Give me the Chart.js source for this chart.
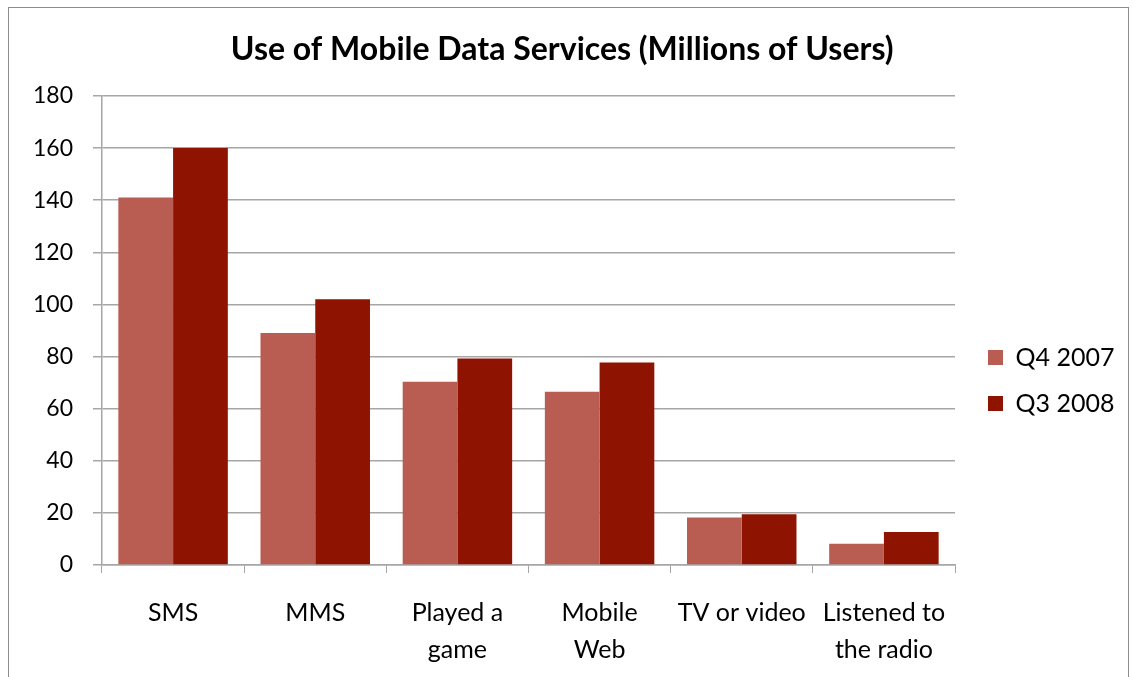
<!DOCTYPE html>
<html>
<head>
<meta charset="utf-8">
<title>Use of Mobile Data Services</title>
<script src="https://cdn.jsdelivr.net/npm/chart.js@4"></script>
<style>
  html, body { margin: 0; padding: 0; background: #fff; overflow: hidden; }
  #wrap { position: relative; width: 1134px; height: 677px; }
  #chart { position: absolute; left: 0; top: 0; }
  #frame {
    position: absolute; left: 8px; top: 7px; width: 1121px; height: 720px;
    border: 1.5px solid #8c8c8c; pointer-events: none; box-sizing: border-box;
  }
</style>
</head>
<body>
<div id="wrap">
  <canvas id="chart" width="1134" height="677"></canvas>
  <div id="frame"></div>
</div>
<script>
// Categories (multi-line labels as arrays)
const categories = [
  ['SMS'],
  ['MMS'],
  ['Played a', 'game'],
  ['Mobile', 'Web'],
  ['TV or video'],
  ['Listened to', 'the radio']
];

// Millions of users per survey period
const q4_2007 = [141, 89, 70.3, 66.5, 18.2, 8.2];
const q3_2008 = [160, 102, 79.3, 77.7, 19.5, 12.7];

const seriesNames = ['Q4 2007', 'Q3 2008'];

// Value axis ticks
const yTicks = [0, 20, 40, 60, 80, 100, 120, 140, 160, 180];

const FONT = 'Lato, "Open Sans", sans-serif';
const GRID = '#a6a6a6';

// Legend sizing: measure labels so the plot keeps a fixed right edge
const legendFontSize = 25;
const legendPad = 21;
const legendBox = 15;
const mctx = document.createElement('canvas').getContext('2d');
mctx.font = legendFontSize + 'px ' + FONT;
const maxLegendText = Math.max(...seriesNames.map(s => mctx.measureText(s).width));
const legendWidth = legendPad + legendBox + legendFontSize / 2 + maxLegendText + 10;
const plotRight = 955;
const legendGap = 12;
const rightPad = Math.max(0, 1134 - plotRight - legendGap - legendWidth);

new Chart(document.getElementById('chart'), {
  type: 'bar',
  data: {
    labels: categories,
    datasets: [
      {
        label: seriesNames[0],
        data: q4_2007,
        backgroundColor: '#b95c52',
        categoryPercentage: 0.77,
        barPercentage: 1.0
      },
      {
        label: seriesNames[1],
        data: q3_2008,
        backgroundColor: '#8e1300',
        categoryPercentage: 0.77,
        barPercentage: 1.0
      }
    ]
  },
  options: {
    responsive: false,
    devicePixelRatio: 1,
    animation: false,
    layout: { padding: { top: 0, left: 0, right: rightPad, bottom: 10 } },
    plugins: {
      title: {
        display: true,
        text: 'Use of Mobile Data Services (Millions of Users)',
        color: '#000',
        font: { family: FONT, size: 32, weight: 'bold', lineHeight: 1.2 },
        padding: { top: 30, bottom: 27.6 }
      },
      legend: {
        position: 'right',
        // empty heading block: pushes the legend entries down to mid-height of the plot
        title: { display: true, text: '', font: { family: FONT, size: 20, lineHeight: 1 }, padding: { top: 74, bottom: 0 } },
        labels: {
          color: '#000',
          font: { family: FONT, size: legendFontSize },
          boxWidth: legendBox,
          boxHeight: legendBox,
          padding: legendPad
        }
      },
      tooltip: { enabled: false }
    },
    scales: {
      x: {
        grid: {
          display: true,
          drawOnChartArea: false,
          drawTicks: true,
          tickLength: 8,
          color: GRID,
          lineWidth: 1
        },
        border: { display: true, color: GRID, width: 1.5 },
        ticks: {
          color: '#000',
          font: { family: FONT, size: 25, lineHeight: 1.48 },
          padding: 21,
          maxRotation: 0,
          autoSkip: false
        },
        afterFit(scale) { scale.height = 102; }
      },
      y: {
        min: 0,
        max: 180,
        afterBuildTicks(scale) { scale.ticks = yTicks.map(v => ({ value: v })); },
        grid: {
          color: GRID,
          lineWidth: 1.5,
          tickLength: 9
        },
        border: { display: true, color: GRID, width: 1.5 },
        ticks: {
          color: '#000',
          font: { family: FONT, size: 23 },
          padding: 20
        },
        afterFit(scale) { scale.width = 102; }
      },
      // narrow spacer between the plot and the legend
      gap: {
        type: 'linear',
        position: 'right',
        display: true,
        grid: { display: false },
        border: { display: false },
        ticks: { display: false },
        afterFit(scale) { scale.width = legendGap; }
      }
    }
  }
});
</script>
</body>
</html>
